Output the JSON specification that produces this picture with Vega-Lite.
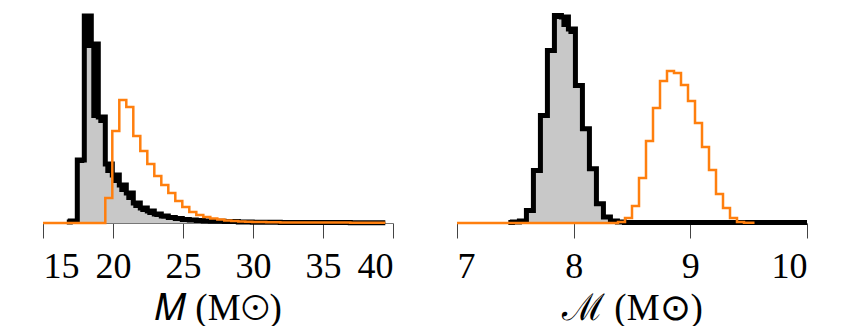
{
  "$schema": "https://vega.github.io/schema/vega-lite/v6.json",
  "padding": {"left": 38, "top": 5, "right": 5, "bottom": 0},
  "background": "white",
  "bounds": "flush",
  "spacing": 64,
  "config": {
    "view": {"stroke": null},
    "axis": {
      "labelFont": "Liberation Serif",
      "labelFontSize": 36,
      "labelColor": "#000",
      "labelPadding": 11,
      "tickSize": 15,
      "tickColor": "#444",
      "domainColor": "#777",
      "grid": false,
      "titleFont": "Liberation Serif",
      "titleFontSize": 37,
      "titleFontWeight": "normal",
      "titleColor": "#000",
      "titlePadding": 6
    }
  },
  "datasets": {
    "left": [
      {"s": "B", "x": 16.7, "y": 1}, {"s": "B", "x": 16.95, "y": 2}, {"s": "B", "x": 17.45, "y": 63}, {"s": "B", "x": 17.95, "y": 207},
      {"s": "B", "x": 18.45, "y": 179}, {"s": "B", "x": 18.95, "y": 106}, {"s": "B", "x": 19.45, "y": 59}, {"s": "B", "x": 19.95, "y": 48},
      {"s": "B", "x": 20.45, "y": 38}, {"s": "B", "x": 20.95, "y": 30}, {"s": "B", "x": 21.45, "y": 20}, {"s": "B", "x": 21.95, "y": 15},
      {"s": "B", "x": 22.45, "y": 12}, {"s": "B", "x": 22.95, "y": 9}, {"s": "B", "x": 23.45, "y": 7}, {"s": "B", "x": 23.95, "y": 5.5},
      {"s": "B", "x": 24.45, "y": 4.5}, {"s": "B", "x": 24.95, "y": 3.5}, {"s": "B", "x": 25.45, "y": 3}, {"s": "B", "x": 25.95, "y": 2.5},
      {"s": "B", "x": 26.45, "y": 2}, {"s": "B", "x": 26.95, "y": 1.7}, {"s": "B", "x": 27.95, "y": 1.4}, {"s": "B", "x": 28.95, "y": 1.1},
      {"s": "B", "x": 29.95, "y": 0.8}, {"s": "B", "x": 31.95, "y": 0.6}, {"s": "B", "x": 33.95, "y": 0.4}, {"s": "B", "x": 36.95, "y": 0.3},
      {"s": "B", "x": 39.45, "y": 0.3},
      {"s": "G", "x": 16.95, "y": 0}, {"s": "G", "x": 17.45, "y": 60}, {"s": "G", "x": 17.95, "y": 175}, {"s": "G", "x": 18.45, "y": 105},
      {"s": "G", "x": 18.95, "y": 100}, {"s": "G", "x": 19.45, "y": 50}, {"s": "G", "x": 19.95, "y": 40}, {"s": "G", "x": 20.45, "y": 31},
      {"s": "G", "x": 20.95, "y": 23}, {"s": "G", "x": 21.45, "y": 15}, {"s": "G", "x": 21.95, "y": 11}, {"s": "G", "x": 22.45, "y": 8},
      {"s": "G", "x": 22.95, "y": 6}, {"s": "G", "x": 23.45, "y": 4.5}, {"s": "G", "x": 23.95, "y": 3}, {"s": "G", "x": 24.45, "y": 2.5},
      {"s": "G", "x": 24.95, "y": 2}, {"s": "G", "x": 25.95, "y": 1}, {"s": "G", "x": 26.45, "y": 0},
      {"s": "O", "x": 15.0, "y": 0}, {"s": "O", "x": 19.45, "y": 25}, {"s": "O", "x": 19.95, "y": 92}, {"s": "O", "x": 20.45, "y": 123},
      {"s": "O", "x": 20.95, "y": 116}, {"s": "O", "x": 21.45, "y": 87}, {"s": "O", "x": 21.95, "y": 72}, {"s": "O", "x": 22.45, "y": 59},
      {"s": "O", "x": 22.95, "y": 47}, {"s": "O", "x": 23.45, "y": 38}, {"s": "O", "x": 23.95, "y": 30}, {"s": "O", "x": 24.45, "y": 22},
      {"s": "O", "x": 24.95, "y": 16}, {"s": "O", "x": 25.45, "y": 11}, {"s": "O", "x": 25.95, "y": 8}, {"s": "O", "x": 26.45, "y": 6},
      {"s": "O", "x": 26.95, "y": 4.5}, {"s": "O", "x": 27.45, "y": 3.5}, {"s": "O", "x": 27.95, "y": 2.5}, {"s": "O", "x": 28.45, "y": 2},
      {"s": "O", "x": 28.95, "y": 1.5}, {"s": "O", "x": 29.45, "y": 1.2}, {"s": "O", "x": 29.95, "y": 1}, {"s": "O", "x": 30.95, "y": 0.8},
      {"s": "O", "x": 31.95, "y": 0.6}, {"s": "O", "x": 33.95, "y": 0.4}, {"s": "O", "x": 36.95, "y": 0.3}, {"s": "O", "x": 39.45, "y": 0.3}
    ],
    "right": [
      {"s": "B", "x": 7.44, "y": 0.5}, {"s": "B", "x": 7.475, "y": 1}, {"s": "B", "x": 7.535, "y": 2}, {"s": "B", "x": 7.595, "y": 12.6},
      {"s": "B", "x": 7.655, "y": 52.6}, {"s": "B", "x": 7.715, "y": 107.6}, {"s": "B", "x": 7.775, "y": 172.6}, {"s": "B", "x": 7.835, "y": 207.5},
      {"s": "B", "x": 7.895, "y": 206}, {"s": "B", "x": 7.955, "y": 194}, {"s": "B", "x": 8.015, "y": 137.6}, {"s": "B", "x": 8.075, "y": 94.3},
      {"s": "B", "x": 8.135, "y": 54.3}, {"s": "B", "x": 8.195, "y": 19.3}, {"s": "B", "x": 8.255, "y": 6}, {"s": "B", "x": 8.315, "y": 2},
      {"s": "B", "x": 8.375, "y": 1}, {"s": "B", "x": 8.435, "y": 0.5}, {"s": "B", "x": 10.0, "y": 0.5},
      {"s": "G", "x": 7.475, "y": 0}, {"s": "G", "x": 7.535, "y": 1}, {"s": "G", "x": 7.595, "y": 12}, {"s": "G", "x": 7.655, "y": 52},
      {"s": "G", "x": 7.715, "y": 107}, {"s": "G", "x": 7.775, "y": 171}, {"s": "G", "x": 7.835, "y": 204}, {"s": "G", "x": 7.895, "y": 196},
      {"s": "G", "x": 7.955, "y": 189}, {"s": "G", "x": 8.015, "y": 136}, {"s": "G", "x": 8.075, "y": 93}, {"s": "G", "x": 8.135, "y": 53},
      {"s": "G", "x": 8.195, "y": 18}, {"s": "G", "x": 8.255, "y": 5}, {"s": "G", "x": 8.315, "y": 0},
      {"s": "O", "x": 7.0, "y": 0}, {"s": "O", "x": 8.38, "y": 1}, {"s": "O", "x": 8.44, "y": 5}, {"s": "O", "x": 8.5, "y": 17},
      {"s": "O", "x": 8.56, "y": 45}, {"s": "O", "x": 8.62, "y": 82}, {"s": "O", "x": 8.68, "y": 115}, {"s": "O", "x": 8.74, "y": 142},
      {"s": "O", "x": 8.8, "y": 152}, {"s": "O", "x": 8.86, "y": 150}, {"s": "O", "x": 8.92, "y": 138}, {"s": "O", "x": 8.98, "y": 122},
      {"s": "O", "x": 9.04, "y": 100}, {"s": "O", "x": 9.1, "y": 76}, {"s": "O", "x": 9.16, "y": 53}, {"s": "O", "x": 9.22, "y": 29},
      {"s": "O", "x": 9.28, "y": 15}, {"s": "O", "x": 9.34, "y": 5}, {"s": "O", "x": 9.4, "y": 1}, {"s": "O", "x": 9.46, "y": 0.3},
      {"s": "O", "x": 9.55, "y": 0.3}
    ]
  },
  "hconcat": [
    {
      "width": 350,
      "height": 214,
      "data": {"name": "left"},
      "encoding": {
        "x": {"field": "x", "type": "quantitative", "scale": {"domain": [15, 40], "nice": false, "zero": false},
              "axis": {"values": [15, 20, 25, 30, 35, 40], "title": "𝑀 (M⊙)"}},
        "y": {"field": "y", "type": "quantitative", "scale": {"domain": [0, 214], "nice": false}, "axis": null}
      },
      "layer": [
        {"transform": [{"filter": "datum.s == 'B'"}], "mark": {"type": "area", "interpolate": "step-after", "color": "#000"}},
        {"transform": [{"filter": "datum.s == 'G'"}], "mark": {"type": "area", "interpolate": "step-after", "color": "#c8c8c8"}},
        {"transform": [{"filter": "datum.s == 'B'"}], "mark": {"type": "line", "interpolate": "step-after", "color": "#000", "strokeWidth": 5, "strokeJoin": "miter"}},
        {"transform": [{"filter": "datum.s == 'O'"}], "mark": {"type": "line", "interpolate": "step-after", "color": "#ff7f0e", "strokeWidth": 2.5, "strokeJoin": "miter"}}
      ]
    },
    {
      "width": 350,
      "height": 214,
      "data": {"name": "right"},
      "encoding": {
        "x": {"field": "x", "type": "quantitative", "scale": {"domain": [7, 10], "nice": false, "zero": false},
              "axis": {"values": [7, 8, 9, 10], "title": "ℳ (M⊙)"}},
        "y": {"field": "y", "type": "quantitative", "scale": {"domain": [0, 214], "nice": false}, "axis": null}
      },
      "layer": [
        {"transform": [{"filter": "datum.s == 'B'"}], "mark": {"type": "area", "interpolate": "step-after", "color": "#000"}},
        {"transform": [{"filter": "datum.s == 'G'"}], "mark": {"type": "area", "interpolate": "step-after", "color": "#c8c8c8"}},
        {"transform": [{"filter": "datum.s == 'B'"}], "mark": {"type": "line", "interpolate": "step-after", "color": "#000", "strokeWidth": 5, "strokeJoin": "miter"}},
        {"transform": [{"filter": "datum.s == 'O'"}], "mark": {"type": "line", "interpolate": "step-after", "color": "#ff7f0e", "strokeWidth": 2.5, "strokeJoin": "miter"}}
      ]
    }
  ]
}
